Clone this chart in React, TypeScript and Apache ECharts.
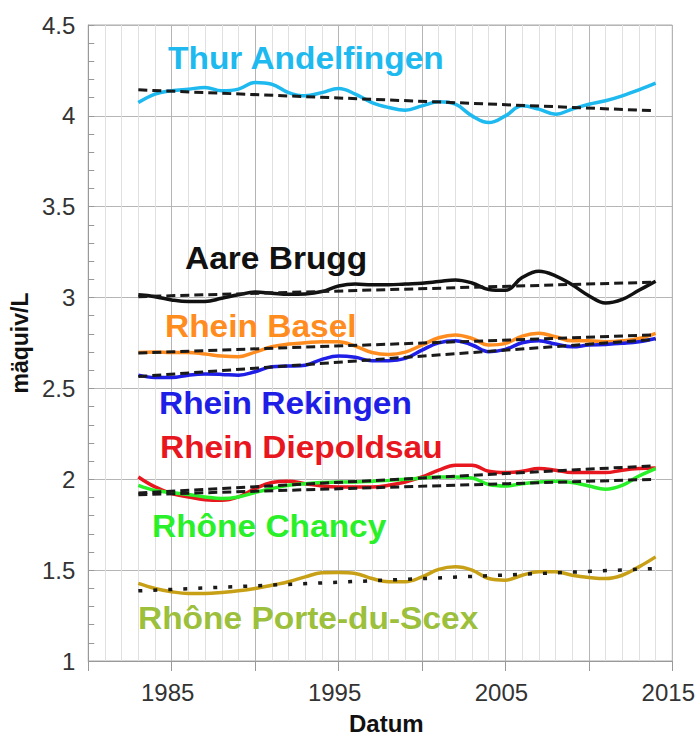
import React, { useEffect, useRef } from "react";
import * as echarts from "echarts";

const years = [1983, 1984, 1985, 1986, 1987, 1988, 1989, 1990, 1991, 1992, 1993, 1994, 1995, 1996, 1997, 1998, 1999, 2000, 2001, 2002, 2003, 2004, 2005, 2006, 2007, 2008, 2009, 2010, 2011, 2012, 2013, 2014];

const thur = [4.073, 4.12, 4.138, 4.147, 4.156, 4.138, 4.147, 4.183, 4.174, 4.128, 4.11, 4.128, 4.15, 4.12, 4.073, 4.046, 4.031, 4.055, 4.077, 4.064, 4.0, 3.963, 4.0, 4.055, 4.037, 4.009, 4.037, 4.064, 4.083, 4.11, 4.143, 4.18];
const aare = [3.015, 3.005, 2.987, 2.978, 2.978, 2.996, 3.015, 3.03, 3.024, 3.018, 3.02, 3.033, 3.064, 3.075, 3.07, 3.07, 3.075, 3.079, 3.088, 3.097, 3.08, 3.045, 3.04, 3.11, 3.145, 3.12, 3.07, 3.01, 2.97, 2.99, 3.04, 3.09];
const basel = [2.698, 2.7, 2.698, 2.698, 2.689, 2.678, 2.674, 2.7, 2.729, 2.744, 2.751, 2.757, 2.757, 2.733, 2.698, 2.687, 2.7, 2.739, 2.779, 2.794, 2.775, 2.739, 2.748, 2.788, 2.803, 2.784, 2.762, 2.762, 2.757, 2.762, 2.775, 2.803];
const rekingen = [2.573, 2.56, 2.56, 2.573, 2.579, 2.577, 2.573, 2.592, 2.619, 2.623, 2.628, 2.66, 2.678, 2.671, 2.652, 2.652, 2.665, 2.711, 2.751, 2.762, 2.739, 2.702, 2.715, 2.751, 2.762, 2.744, 2.729, 2.739, 2.742, 2.748, 2.757, 2.775];
const diepoldsau = [2.013, 1.958, 1.921, 1.903, 1.888, 1.884, 1.903, 1.949, 1.982, 1.989, 1.976, 1.963, 1.958, 1.958, 1.958, 1.967, 1.985, 2.013, 2.05, 2.077, 2.077, 2.044, 2.037, 2.044, 2.059, 2.05, 2.037, 2.037, 2.037, 2.05, 2.059, 2.062];
const chancy = [1.967, 1.939, 1.927, 1.916, 1.903, 1.894, 1.903, 1.927, 1.949, 1.967, 1.976, 1.982, 1.985, 1.985, 1.989, 1.994, 2.0, 2.007, 2.013, 2.013, 2.007, 1.971, 1.963, 1.976, 1.985, 1.989, 1.982, 1.963, 1.945, 1.967, 2.018, 2.059];
const porte = [1.427, 1.399, 1.381, 1.372, 1.372, 1.377, 1.386, 1.399, 1.417, 1.436, 1.463, 1.485, 1.487, 1.482, 1.454, 1.436, 1.436, 1.463, 1.504, 1.518, 1.5, 1.454, 1.445, 1.472, 1.491, 1.491, 1.472, 1.46, 1.454, 1.472, 1.518, 1.573];

// trend lines: [value at first year, value at last year]
const thurTrend = [4.143, 4.028];
const aareTrend = [3.005, 3.085];
const baselTrend = [2.695, 2.795];
const rekingenTrend = [2.565, 2.77];
const diepoldsauTrend = [1.925, 2.075];
const chancyTrend = [1.915, 2.0];
const porteTrend = [1.386, 1.509];

const xTickLabels = [1985, 1995, 2005, 2015];

const FONT = '"Liberation Sans", Arial, Helvetica, sans-serif';

export default function App() {
  const ref = useRef<HTMLDivElement>(null);

  useEffect(() => {
    const chart = echarts.init(ref.current!, null, { renderer: "svg" });
    const toPts = (vals: number[]) => years.map((y, i) => [y, vals[i]]);
    const trendPts = (t: number[]) => [
      [years[0], t[0]],
      [years[years.length - 1], t[1]],
    ];

    const rivers = [
      { name: "Thur Andelfingen", data: thur, trend: thurTrend, color: "#1DB9EF", text: "#1DB9EF", lx: 168, ly: 58, dot: false },
      { name: "Aare Brugg", data: aare, trend: aareTrend, color: "#111111", text: "#111111", lx: 185, ly: 258, dot: false },
      { name: "Rhein Basel", data: basel, trend: baselTrend, color: "#FF8C1E", text: "#FF8C1E", lx: 165, ly: 326, dot: false },
      { name: "Rhein Rekingen", data: rekingen, trend: rekingenTrend, color: "#1E1EE6", text: "#1E1EE6", lx: 159, ly: 403, dot: false },
      { name: "Rhein Diepoldsau", data: diepoldsau, trend: diepoldsauTrend, color: "#E8161E", text: "#E8161E", lx: 160, ly: 447, dot: false },
      { name: "Rhône Chancy", data: chancy, trend: chancyTrend, color: "#2AF02A", text: "#2AF02A", lx: 152, ly: 526, dot: false },
      { name: "Rhône Porte-du-Scex", data: porte, trend: porteTrend, color: "#C8A016", text: "#9CC03C", lx: 138, ly: 618, dot: true },
    ];

    const series: any[] = [];
    rivers.forEach((r) => {
      series.push({
        name: r.name,
        type: "line",
        data: toPts(r.data),
        smooth: 0.4,
        showSymbol: false,
        lineStyle: { color: r.color, width: 3.5 },
        z: 2,
      });
    });
    rivers.forEach((r) => {
      series.push({
        name: r.name + " Trend",
        type: "line",
        data: trendPts(r.trend),
        showSymbol: false,
        lineStyle: {
          color: "#1a1a1a",
          width: r.dot ? 3.5 : 3,
          type: r.dot ? [4, 11] : [9, 5],
        },
        z: 3,
      });
    });

    chart.setOption({
      animation: false,
      backgroundColor: "#ffffff",
      grid: {
        left: 86,
        right: 24,
        top: 25,
        bottom: 79,
        show: true,
        borderColor: "#aaaaaa",
        borderWidth: 1,
      },
      xAxis: {
        type: "value",
        min: 1980,
        max: 2015,
        interval: 5,
        axisLine: { show: true, lineStyle: { color: "#999999" } },
        axisTick: { show: true, length: 10, lineStyle: { color: "#999999" } },
        axisLabel: {
          formatter: (v: number) => (xTickLabels.includes(v) ? String(v) : ""),
          fontSize: 24,
          color: "#333333",
          margin: 19,
          fontFamily: FONT,
          padding: [0, 8, 0, 0],
        },
        splitLine: { show: true, lineStyle: { color: "#b5b5b5" } },
        minorTick: { show: false, splitNumber: 5 },
        minorSplitLine: { show: true, lineStyle: { color: "#e0e0e0" } },
        name: "Datum",
        nameLocation: "middle",
        nameGap: 50,
        nameTextStyle: { fontSize: 24, fontWeight: "bold", color: "#111111", fontFamily: FONT, padding: [0, 0, 0, 12] },
      },
      yAxis: {
        type: "value",
        min: 1,
        max: 4.5,
        interval: 0.5,
        axisLine: { show: true, lineStyle: { color: "#999999" } },
        axisTick: { show: true, inside: true, length: 6, lineStyle: { color: "#999999" } },
        minorTick: { show: true, splitNumber: 5, length: 6, lineStyle: { color: "#999999" } },
        axisLabel: { fontSize: 24, color: "#333333", margin: 13, fontFamily: FONT },
        splitLine: { show: true, lineStyle: { color: "#b5b5b5" } },
        name: "mäquiv/L",
        nameLocation: "middle",
        nameGap: 54,
        nameTextStyle: { fontSize: 23, fontWeight: "bold", color: "#111111", fontFamily: FONT, padding: [0, 0, 0, 0] },
      },
      series,
      graphic: rivers.map((r) => ({
        type: "text",
        x: r.lx,
        y: r.ly,
        scaleX: 1.08,
        z: 10,
        style: {
          text: r.name,
          fill: r.text,
          font: `bold 31px ${FONT}`,
          verticalAlign: "middle",
          align: "left",
        },
      })),
    });

    return () => chart.dispose();
  }, []);

  return (
    <div
      ref={ref}
      style={{ position: "fixed", left: 0, top: 0, width: 698, height: 740, background: "#fff" }}
    />
  );
}
